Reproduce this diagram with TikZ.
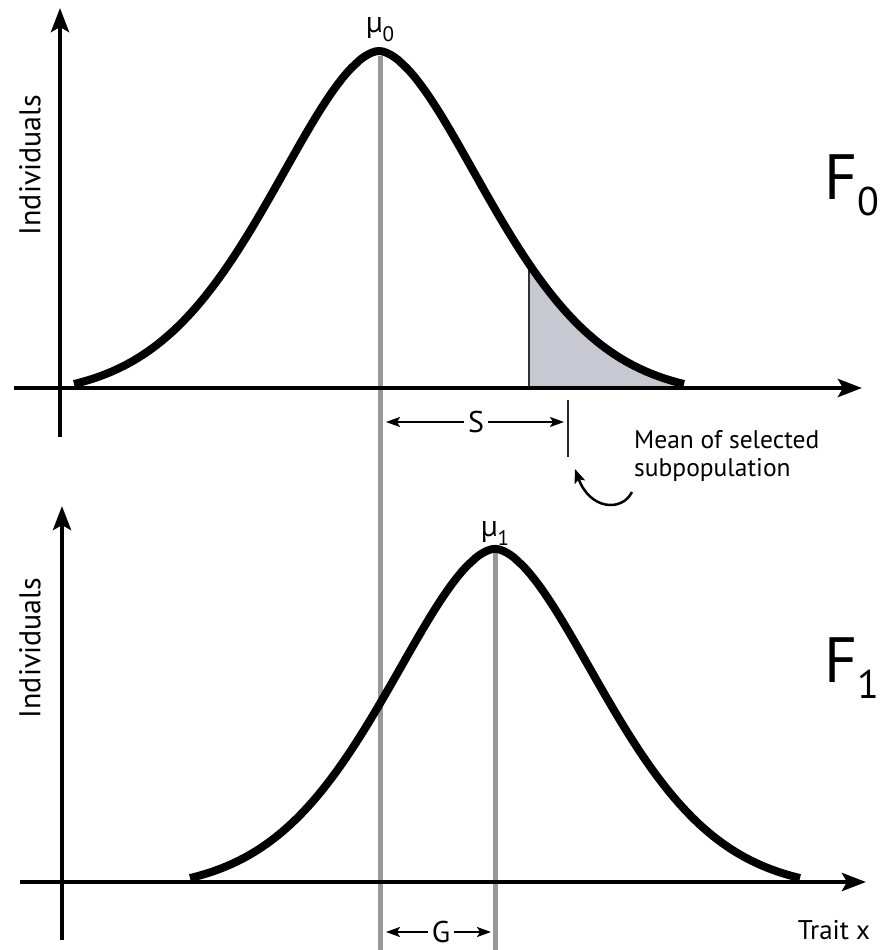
\documentclass[tikz,border=0pt]{standalone}
\usepackage{fontspec}
\setmainfont{PT Sans}
\usetikzlibrary{arrows.meta}
\definecolor{gline}{RGB}{152,152,155}
\definecolor{shadecol}{RGB}{200,200,210}
\begin{document}
\begin{tikzpicture}[x=1pt,y=-1pt,
  curve/.style={line width=8pt},
  axis/.style={line width=4.5pt,-{Stealth[length=24pt,width=18pt,inset=5pt]}},
  dim/.style={line width=2pt,-{Stealth[length=14pt,width=10pt,inset=3pt]}},
  guide/.style={line width=5pt,draw=gline},
  lbl/.style={inner sep=0pt,font=\fontsize{30}{30}\selectfont},
  big/.style={inner sep=0pt,font=\fontsize{64}{64}\selectfont},
  small/.style={inner sep=0pt,font=\fontsize{25.5}{28}\selectfont}]
\useasboundingbox (0,0) rectangle (881,950);
% gray guide lines
\draw[guide] (380,56) -- (380,950);
\draw[guide] (495,553) -- (495,950);
% shaded tail
\coordinate (shtop) at (529,{384-346*(exp(-(150/154)^1.74)-0.0376)});
\fill[shadecol] (529,388) -- plot[domain=150:305,samples=40,smooth] ({379+\x},{384-346*(exp(-(\x/154)^1.74)-0.0376)}) -- (684,388) -- cycle;
\draw[line width=1.5pt,black!80] (529,388) -- (shtop);
% axes top
\coordinate (a0l) at (14,388);
\coordinate (a0r) at (862,388);
\coordinate (a0b) at (60,437);
\coordinate (a0t) at (60,8);
\draw[axis] (a0l) -- (a0r);
\draw[axis] (a0b) -- (a0t);
% axes bottom
\coordinate (a1l) at (20,882);
\coordinate (a1r) at (866,882);
\coordinate (a1b) at (62,940);
\coordinate (a1t) at (62,506);
\draw[axis] (a1l) -- (a1r);
\draw[axis] (a1b) -- (a1t);
% curves
\draw[curve] plot[domain=-305:305,samples=161,smooth] ({379+\x},{384-346*(exp(-((abs(\x)+0.001)/154)^1.74)-0.0376)});
\draw[curve] plot[domain=-305:305,samples=161,smooth] ({495+\x},{878-342*(exp(-((abs(\x)+0.001)/154)^1.74)-0.0376)});
% labels
\node[lbl] (mu0) at (380,30) {µ\raisebox{-0.3em}{\fontsize{21}{21}\selectfont 0}};
\node[lbl] (mu1) at (495,533) {µ\raisebox{-0.3em}{\fontsize{21}{21}\selectfont 1}};
\node[big] (F0) at (852,185) {F\raisebox{-0.25em}{\fontsize{40}{40}\selectfont 0}};
\node[big] (F1) at (852,668) {F\raisebox{-0.25em}{\fontsize{40}{40}\selectfont 1}};
\node[lbl,rotate=90] (ind0) at (30,165) {Individuals};
\node[lbl,rotate=90] (ind1) at (30,648) {Individuals};
% S dimension
\node[lbl] (S) at (476,422) {S};
\coordinate (sl) at (386,422);
\coordinate (sr) at (564,422);
\draw[dim] (S.west) ++(-4,0) -- (sl);
\draw[dim] (S.east) ++(4,0) -- (sr);
\coordinate (tickt) at (568,400);
\coordinate (tickb) at (568,457);
\draw[line width=2pt,black!85] (tickt) -- (tickb);
% G dimension
\node[lbl] (G) at (441,932) {G};
\coordinate (gl) at (386,932);
\coordinate (gr) at (491,932);
\draw[dim] (G.west) ++(-4,0) -- (gl);
\draw[dim] (G.east) ++(4,0) -- (gr);
% note
\node[small,anchor=north west,align=left] (note) at (634,430) {Mean of selected\\subpopulation};
\coordinate (cs) at (632,492);
\coordinate (ce) at (575,469);
\draw[line width=2.5pt,-{Stealth[length=14pt,width=11pt,inset=3pt]}] (cs) .. controls (622,512) and (590,510) .. (ce);
\node[inner sep=0pt,font=\fontsize{27}{27}\selectfont] (trait) at (834,930) {Trait x};
\end{tikzpicture}
\end{document}
